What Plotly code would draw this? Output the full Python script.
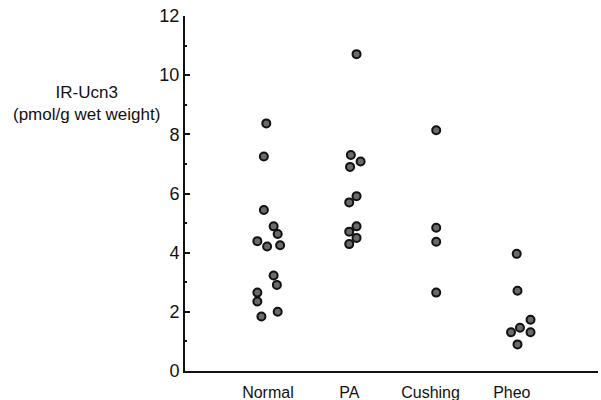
import plotly.graph_objects as go

categories = ["Normal", "PA", "Cushing", "Pheo"]

normal_vals = [8.37, 7.25, 5.44, 4.89, 4.63, 4.39, 4.21, 4.25, 3.23, 2.91, 2.65, 2.35, 2.00, 1.84]
normal_jit = [-0.02, -0.05, -0.05, 0.07, 0.12, -0.13, -0.01, 0.15, 0.07, 0.11, -0.13, -0.13, 0.12, -0.08]

pa_vals = [10.71, 7.30, 7.08, 6.90, 5.91, 5.70, 4.89, 4.71, 4.50, 4.29]
pa_jit = [0.09, 0.02, 0.14, 0.01, 0.09, 0.0, 0.09, 0.0, 0.09, 0.0]

cushing_vals = [8.14, 4.84, 4.37, 2.65]
cushing_jit = [0.07, 0.07, 0.07, 0.07]

pheo_vals = [3.96, 2.71, 1.73, 1.46, 1.31, 1.31, 0.90]
pheo_jit = [0.06, 0.07, 0.23, 0.10, -0.01, 0.23, 0.07]

groups = [normal_vals, pa_vals, cushing_vals, pheo_vals]
jitters = [normal_jit, pa_jit, cushing_jit, pheo_jit]

y_ticks = [0, 2, 4, 6, 8, 10, 12]

FONT = "Liberation Sans, Arial, sans-serif"

fig = go.Figure()
for i, (vals, jit) in enumerate(zip(groups, jitters)):
    xs = [i + 1 + j for j in jit]
    fig.add_trace(go.Scatter(
        x=xs, y=vals, mode="markers", name=categories[i],
        marker=dict(size=8, color="#6a6a6a", line=dict(color="#111111", width=2)),
        showlegend=False,
    ))

fig.update_layout(
    width=601, height=400,
    margin=dict(l=185, r=3, t=16, b=29),
    paper_bgcolor="white", plot_bgcolor="white",
    font=dict(family=FONT, color="#111111", size=16),
)

fig.update_xaxes(
    range=[-0.02, 5.06],
    tickmode="array", tickvals=[1, 2, 3, 4], ticktext=categories,
    showline=True, linecolor="#111111", linewidth=2,
    ticks="", showgrid=False, zeroline=False,
    tickfont=dict(size=16, family=FONT),
    ticklabelstandoff=6, automargin=False,
)
fig.update_yaxes(
    range=[0, 12],
    tickmode="array", tickvals=y_ticks,
    ticks="inside", ticklen=5, tickwidth=1.5, tickcolor="#111111",
    minor=dict(dtick=1, ticks="inside", ticklen=2, tickwidth=1.5, tickcolor="#111111"),
    showline=True, linecolor="#111111", linewidth=2,
    showgrid=False, zeroline=False,
    tickfont=dict(size=18, family=FONT),
    automargin=False,
)

fig.add_annotation(
    text="IR-Ucn3<br>(pmol/g wet weight)",
    xref="paper", yref="paper",
    x=(86 - 185) / 413, y=1 - (103.5 - 16) / 355,
    xanchor="center", yanchor="middle",
    showarrow=False, align="center",
    font=dict(size=17, family=FONT, color="#111111"),
)

fig.write_html("out.html", config={"displayModeBar": False},
               post_script="document.body.style.margin='0';")
